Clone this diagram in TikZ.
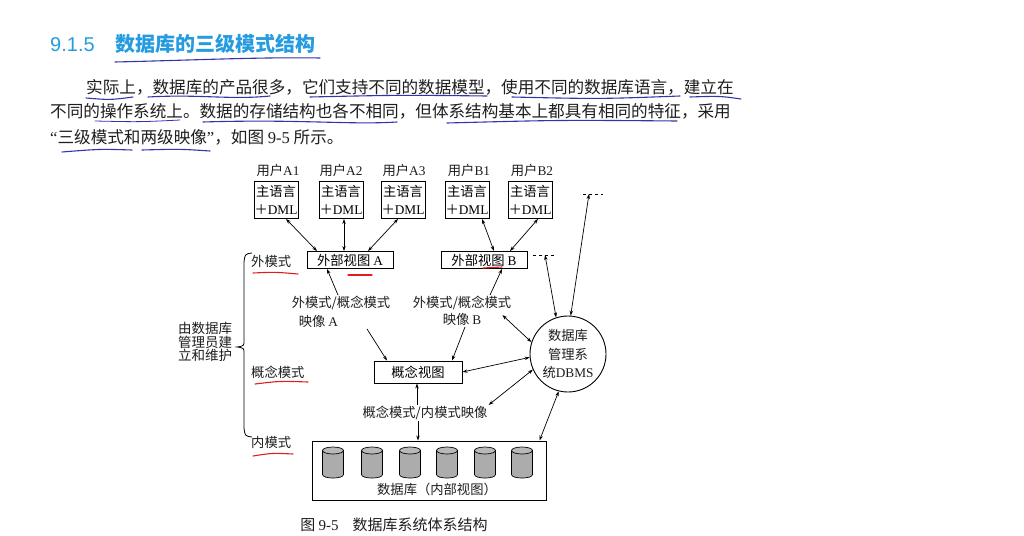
\documentclass[tikz,border=0pt]{standalone}
\usepackage{fontspec}
\setmainfont{Noto Sans CJK SC}
\newfontfamily\lat{Liberation Serif}
\newfontfamily\headsans{Liberation Sans}
\usetikzlibrary{arrows.meta}

\definecolor{headblue}{RGB}{38,156,224}
\definecolor{inkblue}{RGB}{52,52,170}
\definecolor{inkred}{RGB}{225,30,30}
\definecolor{txt}{RGB}{30,30,30}
\definecolor{cylgray}{RGB}{172,172,172}

\tikzset{
  body/.style={font=\fontsize{16.6}{20}\selectfont, text=txt, inner sep=0pt, anchor=base west},
  lab/.style={font=\fontsize{13.3}{17}\selectfont, text=txt, inner sep=1pt},
  userbox/.style={draw, line width=0.9pt, minimum width=44pt, minimum height=37pt,
    inner sep=0pt, align=center, font=\fontsize{13.3}{18}\selectfont},
  viewbox/.style={draw, line width=0.9pt, minimum width=86pt, minimum height=17pt,
    inner sep=0pt, font=\fontsize{13.3}{15}\selectfont},
  link/.style={line width=0.7pt, {Stealth[length=5pt,width=3.4pt]}-{Stealth[length=5pt,width=3.4pt]}},
  oneway/.style={line width=0.7pt, -{Stealth[length=5pt,width=3.4pt]}},
  ink/.style={inkblue, line width=1.1pt, line cap=round},
  redink/.style={inkred, line width=1.1pt, line cap=round},
}

\begin{document}
\begin{tikzpicture}[x=1pt, y=-1pt]
        \fill[white] (0,0) rectangle (1024,535);
        \useasboundingbox (0,0) rectangle (1024,535);

        % heading and text
        \node[body, text=headblue, font=\fontsize{20}{24}\selectfont] (num) at (50,51.5) {\headsans 9.1.5};
        \node[body, text=headblue, font=\fontsize{20}{24}\selectfont\bfseries] (title) at (115,51.5) {数据库的三级模式结构};
        \node[body] (line1) at (86,93.3) {实际上，数据库的产品很多，它们支持不同的数据模型，使用不同的数据库语言，建立在};
        \node[body] (line2) at (50,117.3) {不同的操作系统上。数据的存储结构也各不相同，但体系结构基本上都具有相同的特征，采用};
        \node[body] (line3) at (50,143.5) {{\lat “}三级模式和两级映像{\lat ”}，如图 {\lat 9-5} 所示。};

        \draw[ink] (115,62) .. controls (200,60) and (260,57) .. (320,58);
        \draw[ink] (86,98) .. controls (110,100) .. (133,97);
        \draw[ink] (148,97) .. controls (200,94) and (230,100) .. (270,96);
        \draw[ink] (310,97) .. controls (400,95) .. (487,96);
        \draw[ink] (512,97) .. controls (600,99) .. (680,96);
        \draw[ink] (690,97) .. controls (720,96) .. (741,99);
        \draw[ink, line width=0.8pt] (95,121) .. controls (140,122) .. (180,120);
        \draw[ink] (203,122) .. controls (300,119) and (350,125) .. (397,122);
        \draw[ink] (447,123) .. controls (560,120) .. (677,121);
        \draw[ink] (62,152) .. controls (100,149) .. (132,150);
        \draw[ink] (142,150) .. controls (180,149) .. (210,151);

        % users and host programs
        \node[lab] (ua1) at (278,170) {用户{\lat A1}};
        \node[lab] (ua2) at (341,170) {用户{\lat A2}};
        \node[lab] (ua3) at (404,170) {用户{\lat A3}};
        \node[lab] (ub1) at (469,170) {用户{\lat B1}};
        \node[lab] (ub2) at (532,170) {用户{\lat B2}};

        \node[userbox] (a1) at (276,200) {主语言\\＋{\lat DML}};
        \node[userbox] (a2) at (341,200) {主语言\\＋{\lat DML}};
        \node[userbox] (a3) at (403,200) {主语言\\＋{\lat DML}};
        \node[userbox] (b1) at (467,200) {主语言\\＋{\lat DML}};
        \node[userbox] (b2) at (530,200) {主语言\\＋{\lat DML}};

        \node[viewbox] (va) at (350,260) {外部视图 {\lat A}};
        \node[viewbox] (vb) at (484,260) {外部视图 {\lat B}};

        \draw[link] ([xshift=10pt]a1.south) -- ([xshift=-33pt]va.north);
        \draw[link] ([xshift=3pt]a2.south) -- ([xshift=-6pt]va.north);
        \draw[link] ([xshift=-5pt]a3.south) -- ([xshift=18pt]va.north);
        \draw[link] ([xshift=15pt]b1.south) -- ([xshift=10pt]vb.north);
        \draw[link] ([xshift=8pt]b2.south) -- ([xshift=26pt]vb.north);

        % mappings and conceptual view
        \node[lab, align=left, font=\fontsize{13.3}{19}\selectfont] (mapA) at (341,312) {外模式/概念模式\\\hspace*{7pt}映像 {\lat A}};
        \node[lab, align=center, font=\fontsize{13.3}{17}\selectfont] (mapB) at (462,311) {外模式/概念模式\\映像 {\lat B}};
        \node[viewbox, minimum width=88pt, minimum height=22pt] (cv) at (418,372) {概念视图};
        \node[lab] (mapC) at (425,413) {概念模式/内模式映像};

        \node[draw, circle, line width=0.9pt, minimum size=76pt, inner sep=0pt, align=center,
          text=txt, font=\fontsize{13.3}{18.5}\selectfont] (dbms) at (568,354) {数据库\\管理系\\统{\lat DBMS}};

        \draw[oneway] ([xshift=-3pt]mapA.north) -- ([xshift=-23pt]va.south);
        \draw[oneway] ([xshift=26pt]mapA.south) -- ([xshift=-31pt]cv.north);
        \draw[oneway] ([xshift=28pt]mapB.north) -- ([xshift=18pt]vb.south);
        \draw[oneway] ([xshift=3pt]mapB.south) -- ([xshift=34pt]cv.north);
        \draw[link] ([xshift=-10pt,yshift=-4pt]mapB.east) -- (dbms.162);
        \draw[link] (cv.east) -- (dbms.185);
        \draw[oneway] ([xshift=-8pt]mapC.north) -- ([xshift=-1pt]cv.south);
        \draw[link] (mapC.north east) -- (dbms.204);

        \coordinate (endB) at (545,255);
        \coordinate (endT) at (589,194);
        \draw[dashed, line width=0.5pt] ([xshift=-12pt]endB) -- ([xshift=10pt]endB);
        \draw[dashed, line width=0.5pt] ([xshift=-6pt]endT) -- ([xshift=14pt]endT);
        \draw[link] (endB) -- (dbms.108);
        \draw[link] (endT) -- (dbms.86);

        % stored database
        \node[draw, line width=1pt, minimum width=234pt, minimum height=59pt] (db) at (429,470.5) {};
        \foreach \x in {333,372,410,447,485,522}{
          \draw[fill=cylgray, line width=0.7pt] (\x-10.5,450.5) -- (\x-10.5,474.5)
            .. controls (\x-10.5,479.2) and (\x+10.5,479.2) .. (\x+10.5,474.5) -- (\x+10.5,450.5);
          \draw[fill=cylgray!85, line width=0.7pt] (\x,450.5) ellipse (10.5 and 3.5);
        }
        \node[lab] (dblab) at (437,489) {数据库（内部视图）};
        \draw[oneway] ([xshift=-7pt]mapC.south) -- ([xshift=-11pt]db.north);
        \draw[link] (dbms.256) -- ([xshift=-7pt]db.north east);

        \node[lab, font=\fontsize{15}{17}\selectfont] (cap) at (394,525) {图 {\lat 9-5}\hspace{14pt}数据库系统体系结构};

        % levels on the left
        \node[lab, anchor=west] (lvext) at (250,261) {外模式};
        \node[lab, anchor=west] (lvcon) at (250,372) {概念模式};
        \node[lab, anchor=west] (lvint) at (250,442) {内模式};
        \node[lab, align=center, font=\fontsize{13.5}{12.5}\selectfont] (admin) at (205,342) {由数据库\\管理员建\\立和维护};
        \draw[line width=0.8pt] (252,253) .. controls (245,254) .. (244,262) -- (244,340)
          .. controls (244,346) .. (237,347) .. controls (244,348) .. (244,354) -- (244,428)
          .. controls (245,436) .. (252,437);

        \draw[redink] (253,273) .. controls (275,272) .. (298,274);
        \draw[redink] (255,384) .. controls (280,381) .. (308,382);
        \draw[redink] (253,456) .. controls (272,453) .. (293,454);
        \draw[redink] (348,275) -- (372,275);
        \draw[redink] (483,268) -- (502,267);
      \end{tikzpicture}
\end{document}
